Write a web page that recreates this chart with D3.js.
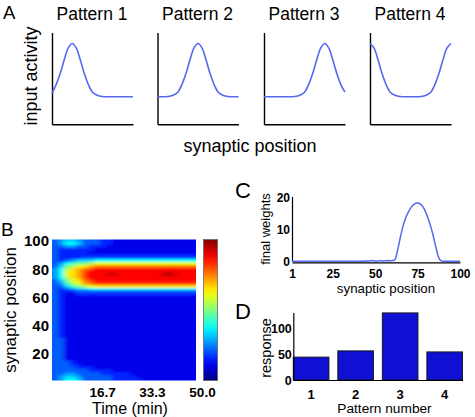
<!DOCTYPE html>
<html>
<head>
<meta charset="utf-8">
<script src="https://cdn.jsdelivr.net/npm/d3@7"></script>
<style>
  html, body { margin: 0; padding: 0; background: #fff; }
  svg { display: block; }
  text { font-family: "Liberation Sans", Arial, Helvetica, sans-serif; fill: #000; }
</style>
</head>
<body>
<svg id="chart" width="475" height="417"></svg>
<script>
// ---------------- DATA ----------------
// Panel A: input activity patterns, sampled at synaptic positions 0..100
const patternNames = ["Pattern 1", "Pattern 2", "Pattern 3", "Pattern 4"];
const inputPositions = [0,5,10,15,20,25,30,35,40,45,50,55,60,65,70,75,80,85,90,95,100];
const pattern1 = [0.34,0.43,0.55,0.70,0.83,0.88,0.83,0.70,0.55,0.43,0.35,0.32,0.305,0.30,0.30,0.30,0.30,0.30,0.30,0.30,0.30];
const pattern2 = [0.30,0.30,0.30,0.305,0.32,0.35,0.43,0.55,0.70,0.83,0.88,0.83,0.70,0.55,0.43,0.35,0.32,0.305,0.30,0.30,0.30];
const pattern3 = [0.30,0.30,0.30,0.30,0.30,0.30,0.30,0.30,0.305,0.32,0.35,0.43,0.55,0.70,0.83,0.88,0.83,0.70,0.55,0.43,0.35];
const pattern4 = [0.88,0.83,0.70,0.55,0.43,0.35,0.32,0.305,0.30,0.30,0.30,0.30,0.30,0.305,0.32,0.35,0.43,0.55,0.70,0.83,0.88];

// Panel B: weight evolution heat map (hex level 0..f), rows = synaptic position (top 100 -> bottom 2),
// columns = time bins starting at heatTimes (2 min each)
const heatTimes = [0,2,4,6,8,10,12,14,16,18,20,22,24,26,28,30,32,34,36,38,40,42,44,46];
const heatPositions = [100,98,96,94,92,90,88,86,84,82,80,78,76,74,72,70,68,66,64,62,60,58,56,54,52,50,48,46,44,42,40,38,36,34,32,30,28,26,24,22,20,18,16,14,12,10,8,6,4,2];
const heatRows = [
  "2344322211" + "00000000000000",
  "2355422211" + "00000000000000",
  "223322111" + "000000000000000",
  "2111111" + "00000000000000000",
  "211111" + "000000000000000000",
  "2111111" + "11111111111111111",
  "2111122" + "22222222222222222",
  "2123444" + "55555555555555555",
  "2356778" + "99999999999999999",
  "24789ab" + "ccccccccccccccccc",
  "358abcd" + "eeeeeeeeeeeeeeeee",
  "359abde" + "eeeeeeeeeeeefeeee",
  "359abde" + "eeffeeeeeeefffeee",
  "358abde" + "eeeeeeeeeeeeeeeee",
  "2479acd" + "eeeeeeeeeeeeeeeee",
  "23689bc" + "ddddddddddddddddd",
  "2246789" + "aaaaaaaaaaaaaaaaa",
  "2123445" + "55555555555555555",
  "2111222" + "22222222222222222",
  "2100111" + "11111111111111111",
  "21" + "0000000000" + "0" + "00000000000",
  "21" + "0000000000" + "0" + "00000000000",
  "21" + "0000000000" + "0" + "00000000000",
  "21" + "0000000000" + "0" + "00000000000",
  "21" + "0000000000" + "0" + "00000000000",
  "21" + "0000000000" + "0" + "00000000000",
  "21" + "0000000000" + "0" + "00000000000",
  "21" + "0000000000" + "0" + "00000000000",
  "21" + "0000000000" + "0" + "00000000000",
  "21" + "0000000000" + "0" + "00000000000",
  "21" + "0000000000" + "0" + "00000000000",
  "21" + "0000000000" + "0" + "00000000000",
  "21" + "0000000000" + "0" + "00000000000",
  "21" + "0000000000" + "0" + "00000000000",
  "21" + "0000000000" + "0" + "00000000000",
  "22" + "0000000000" + "0" + "00000000000",
  "22" + "0000000000" + "0" + "00000000000",
  "22" + "0000000000" + "0" + "00000000000",
  "22" + "0000000000" + "0" + "00000000000",
  "22" + "0000000000" + "0" + "00000000000",
  "22" + "0000000000" + "0" + "00000000000",
  "22" + "0000000000" + "0" + "00000000000",
  "22" + "0000000000" + "0" + "00000000000",
  "2221" + "00000000" + "0" + "00000000000",
  "22211" + "0000000" + "0" + "00000000000",
  "2222111" + "00000" + "0" + "00000000000",
  "2222221111" + "00" + "0" + "00000000000",
  "2233222211111" + "00000000000",
  "23443222221111" + "0000000000",
  "235542222211111" + "000000000"
];
const heatTimeStep = 2;
const heatPosStep = 2;
const bTimeTicks = [16.7, 33.3, 50.0];
const bPosTicks = [20, 40, 60, 80, 100];

// Panel C: final weights at synaptic positions 1..100
const finalWeights = [
  0.1,0.1,0.1,0.1,0.1,0.1,0.1,0.1,0.1,0.1,
  0.1,0.1,0.1,0.1,0.1,0.1,0.1,0.1,0.1,0.1,
  0.1,0.1,0.1,0.1,0.1,0.1,0.1,0.1,0.1,0.1,
  0.1,0.1,0.1,0.1,0.1,0.1,0.1,0.1,0.1,0.1,
  0.1,0.1,0.15,0.1,0.2,0.15,0.2,0.3,0.2,0.15,
  0.1,0.2,0.3,0.2,0.15,0.2,0.3,0.25,0.2,0.3,
  0.3,0.8,3.0,5.5,8.0,10.3,12.2,13.8,15.0,16.0,
  16.9,17.6,18.1,18.4,18.5,18.3,18.0,17.4,16.5,15.3,
  13.9,12.4,10.6,8.6,6.3,4.0,1.9,0.6,0.2,0.1,
  0.1,0.1,0.1,0.1,0.1,0.1,0.1,0.1,0.1,0.1
];
const cPosTicks = [1, 25, 50, 75, 100];
const cWeightTicks = [0, 10, 20];

// Panel D: response to each pattern
const patternNumbers = ["1", "2", "3", "4"];
const responses = [44, 56, 129, 54];
const dResponseTicks = [0, 50, 100];

// ---------------- DRAWING ----------------
const svg = d3.select("#chart");
const defs = svg.append("defs");
const lineBlue = "#5668f0";

function styleAxis(g, opts) {
  g.selectAll(".domain").attr("stroke", "#000").attr("stroke-width", opts.sw || 1.3);
  g.selectAll("text").attr("font-size", opts.fs || 12).attr("font-weight", opts.fw || "normal")
    .attr("font-family", '"Liberation Sans", Arial, sans-serif').attr("fill", "#000");
  if (opts.noDomain) g.select(".domain").remove();
}

// Panel letters
[["A", 3, 18.5, 18.5], ["B", 1, 236, 19], ["C", 235, 198, 22], ["D", 235, 318.5, 22]].forEach(([t, x, y, s]) => {
  svg.append("text").attr("x", x).attr("y", y).attr("font-size", s).text(t);
});

// ----- Panel A -----
const patterns = [pattern1, pattern2, pattern3, pattern4];
const aLefts = [52, 157.5, 264, 370];
const aWidth = 81, aTop = 32.5, aBottom = 124.3;
const aY = d3.scaleLinear().domain([0, 1]).range([aBottom, aTop]);
patterns.forEach((vals, i) => {
  const aX = d3.scaleLinear().domain([0, 100]).range([aLefts[i], aLefts[i] + aWidth]);
  const g = svg.append("g");
  g.append("g").attr("transform", `translate(${aLefts[i]},0)`)
    .call(d3.axisLeft(aY).tickValues([]).tickSizeOuter(0)).call(s => styleAxis(s, { sw: 1.4 }));
  g.append("g").attr("transform", `translate(0,${aBottom})`)
    .call(d3.axisBottom(aX).tickValues([]).tickSizeOuter(0)).call(s => styleAxis(s, { sw: 1.4 }));
  const line = d3.line().x((d, j) => aX(inputPositions[j])).y(d => aY(d)).curve(d3.curveCatmullRom.alpha(0.5));
  g.append("path").datum(vals).attr("d", line).attr("fill", "none").attr("stroke", lineBlue).attr("stroke-width", 1.6);
  g.append("text").attr("x", aLefts[i] + 40).attr("y", 19.5).attr("text-anchor", "middle")
    .attr("font-size", 17.5).text(patternNames[i]);
});
svg.append("text").attr("transform", "translate(36.5,76) rotate(-90)").attr("text-anchor", "middle")
  .attr("font-size", 18).text("input activity");
svg.append("text").attr("x", 250).attr("y", 151.7).attr("text-anchor", "middle")
  .attr("font-size", 18).text("synaptic position");

// ----- Panel B -----
const bX = d3.scaleLinear().domain([0, 50]).range([52, 202]);
const bY = d3.scaleLinear().domain([0, 100]).range([382, 241]);
const jet = d3.scaleLinear()
  .domain([0, 0.125, 0.375, 0.625, 0.875, 1])
  .range(["#000080", "#0000ff", "#00ffff", "#ffff00", "#ff0000", "#800000"])
  .interpolate(d3.interpolateRgb);
const levelToJet = d3.scaleLinear().domain([0, 15]).range([0.105, 0.93]);

const cells = [];
heatRows.forEach((row, r) => {
  const rr = row.padEnd(heatTimes.length, row[row.length - 1]).slice(0, heatTimes.length);
  rr.split("").forEach((ch, c) => cells.push({ r, c, p: heatPositions[r], t: heatTimes[c], v: parseInt(ch, 16) }));
});
const lastC = heatTimes.length - 1, lastR = heatPositions.length - 1;
const x0 = bX(heatTimes[0]), x1 = bX(heatTimes[lastC] + heatTimeStep);
const y0 = bY(heatPositions[0] + heatPosStep / 2), y1 = bY(heatPositions[lastR] - heatPosStep / 2);

defs.append("clipPath").attr("id", "heatClip").append("rect")
  .attr("x", x0).attr("y", y0).attr("width", x1 - x0).attr("height", y1 - y0);
const blur = defs.append("filter").attr("id", "heatBlur").attr("filterUnits", "userSpaceOnUse")
  .attr("x", x0 - 20).attr("y", y0 - 20).attr("width", x1 - x0 + 40).attr("height", y1 - y0 + 40);
blur.append("feGaussianBlur").attr("stdDeviation", "2.3 1.1");

const ext = 10;
svg.append("g").attr("clip-path", "url(#heatClip)")
  .append("g").attr("filter", "url(#heatBlur)")
  .selectAll("rect").data(cells).join("rect")
  .attr("x", d => bX(d.t) - (d.c === 0 ? ext : 0))
  .attr("width", d => bX(d.t + heatTimeStep) - bX(d.t) + 0.6 + (d.c === 0 ? ext : 0) + (d.c === lastC ? ext : 0))
  .attr("y", d => bY(d.p + heatPosStep / 2) - (d.r === 0 ? ext : 0))
  .attr("height", d => bY(d.p - heatPosStep / 2) - bY(d.p + heatPosStep / 2) + 0.6 + (d.r === 0 ? ext : 0) + (d.r === lastR ? ext : 0))
  .attr("fill", d => jet(levelToJet(d.v)))
  .attr("shape-rendering", "crispEdges");

// colour bar
const grad = defs.append("linearGradient").attr("id", "jetGrad").attr("x1", 0).attr("y1", 1).attr("x2", 0).attr("y2", 0);
d3.range(0, 1.0001, 0.05).forEach(s => grad.append("stop").attr("offset", s).attr("stop-color", jet(s)));
svg.append("rect").attr("x", 203.5).attr("y", y0).attr("width", 14).attr("height", y1 - y0)
  .attr("fill", "url(#jetGrad)").attr("stroke", "#666").attr("stroke-width", 0.8);

svg.append("g").attr("transform", `translate(${x0},0)`)
  .call(d3.axisLeft(bY).tickValues(bPosTicks).tickSize(0).tickPadding(3))
  .call(s => styleAxis(s, { fs: 15, fw: "bold", noDomain: true }));
svg.append("g").attr("transform", `translate(0,${y1})`)
  .call(d3.axisBottom(bX).tickValues(bTimeTicks).tickFormat(d3.format(".1f")).tickSize(0).tickPadding(6.5))
  .call(s => styleAxis(s, { fs: 13.5, fw: "bold", noDomain: true }));
svg.append("text").attr("x", 130).attr("y", 414).attr("text-anchor", "middle").attr("font-size", 16).text("Time (min)");
svg.append("text").attr("transform", "translate(15.5,310) rotate(-90)").attr("text-anchor", "middle")
  .attr("font-size", 17).text("synaptic position");

// ----- Panel C -----
const cX = d3.scaleLinear().domain([1, 100]).range([292, 460]);
const cY = d3.scaleLinear().domain([0, 20.5]).range([261.5, 196.5]);
svg.append("g").attr("transform", "translate(292,0)")
  .call(d3.axisLeft(cY).tickValues(cWeightTicks).tickSize(0).tickPadding(2).tickSizeOuter(0))
  .call(s => styleAxis(s, { fs: 12, fw: "bold", sw: 1.2 }));
svg.append("g").attr("transform", `translate(0,${cY(0) + 0.8})`)
  .call(d3.axisBottom(cX).tickValues(cPosTicks).tickSize(0).tickPadding(7.5).tickSizeOuter(0))
  .call(s => styleAxis(s, { fs: 12, fw: "bold", sw: 1.2 }));
svg.append("path").datum(finalWeights)
  .attr("d", d3.line().x((d, i) => cX(i + 1)).y(d => cY(d)))
  .attr("fill", "none").attr("stroke", lineBlue).attr("stroke-width", 1.5);
svg.append("text").attr("transform", "translate(270,229) rotate(-90)").attr("text-anchor", "middle")
  .attr("font-size", 13).text("final weights");
svg.append("text").attr("x", 386).attr("y", 292.5).attr("text-anchor", "middle")
  .attr("font-size", 13.3).text("synaptic position");

// ----- Panel D -----
const dX = d3.scaleBand().domain(patternNumbers).range([293.3, 462.5]).paddingInner(0.2).paddingOuter(0);
const dY = d3.scaleLinear().domain([0, 130]).range([380, 312.4]);
svg.append("g").selectAll("rect").data(responses).join("rect")
  .attr("x", (d, i) => dX(patternNumbers[i])).attr("width", dX.bandwidth())
  .attr("y", d => dY(d)).attr("height", d => dY(0) - dY(d))
  .attr("fill", "#1010d4").attr("stroke", "#1a1a1a").attr("stroke-width", 1);
svg.append("g").attr("transform", "translate(293.3,0)")
  .call(d3.axisLeft(dY).tickValues(dResponseTicks).tickSize(0).tickPadding(1.5).tickSizeOuter(0))
  .call(s => styleAxis(s, { fs: 12.5, fw: "bold", sw: 1.2 }));
svg.append("g").attr("transform", "translate(0,380)")
  .call(d3.axisBottom(dX).tickSize(0).tickPadding(9.5).tickSizeOuter(0))
  .call(s => styleAxis(s, { fs: 13, fw: "bold", sw: 1.2 }));
svg.append("text").attr("transform", "translate(270.5,348) rotate(-90)").attr("text-anchor", "middle")
  .attr("font-size", 14.5).text("response");
svg.append("text").attr("x", 384.5).attr("y", 412.5).attr("text-anchor", "middle")
  .attr("font-size", 13.7).text("Pattern number");
</script>
</body>
</html>
